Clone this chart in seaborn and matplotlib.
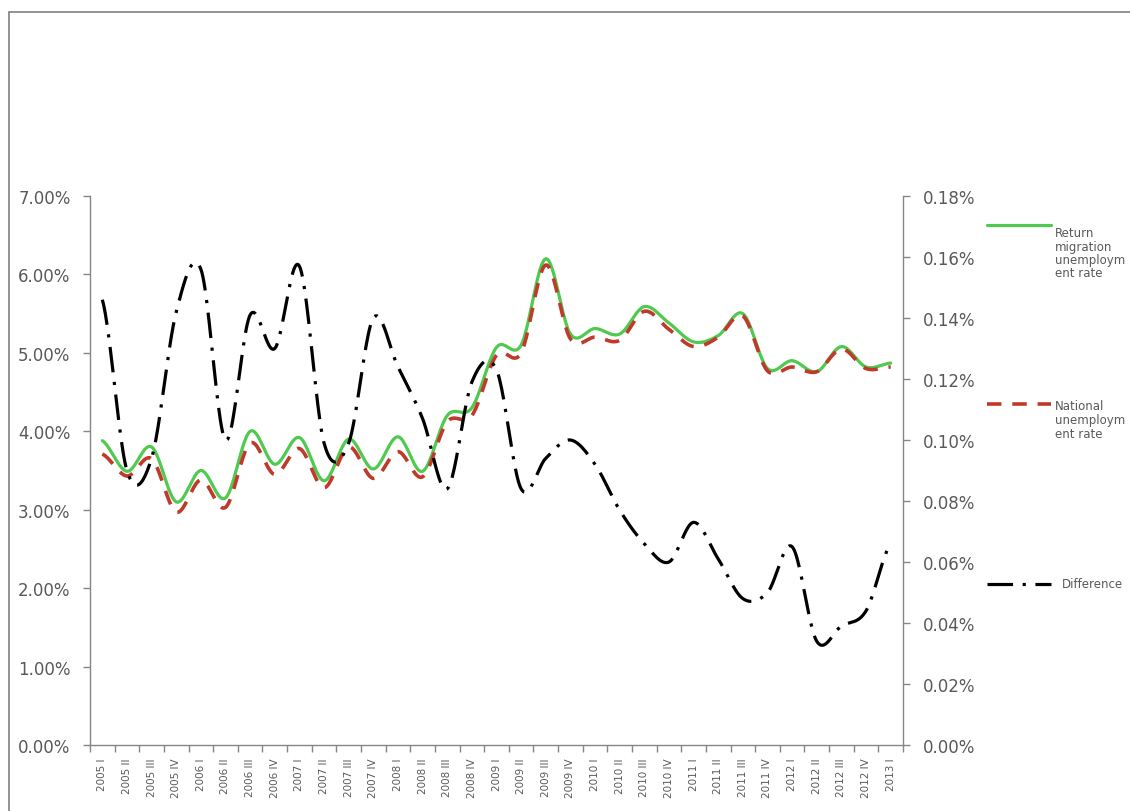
import numpy as np
import pandas as pd
import matplotlib
matplotlib.use("Agg")
import matplotlib.pyplot as plt
from matplotlib.lines import Line2D
from matplotlib.patches import Rectangle
from matplotlib.ticker import FuncFormatter, MultipleLocator, FixedLocator
import seaborn as sns

# ---- data (percent) ----
quarters = [
    "2005 I", "2005 II", "2005 III", "2005 IV",
    "2006 I", "2006 II", "2006 III", "2006 IV",
    "2007 I", "2007 II", "2007 III", "2007 IV",
    "2008 I", "2008 II", "2008 III", "2008 IV",
    "2009 I", "2009 II", "2009 III", "2009 IV",
    "2010 I", "2010 II", "2010 III", "2010 IV",
    "2011 I", "2011 II", "2011 III", "2011 IV",
    "2012 I", "2012 II", "2012 III", "2012 IV",
    "2013 I",
]
return_migration_rate = [
    3.88, 3.49, 3.80, 3.10, 3.50, 3.15, 4.00, 3.58, 3.92, 3.37, 3.90, 3.52,
    3.93, 3.49, 4.20, 4.30, 5.07, 5.10, 6.20, 5.24, 5.31, 5.24, 5.59, 5.38,
    5.14, 5.22, 5.50, 4.80, 4.90, 4.76, 5.08, 4.82, 4.87,
]
national_rate = [
    3.71, 3.43, 3.65, 2.97, 3.38, 3.03, 3.85, 3.45, 3.78, 3.28, 3.80, 3.40,
    3.74, 3.42, 4.12, 4.20, 4.97, 5.00, 6.12, 5.18, 5.20, 5.16, 5.53, 5.30,
    5.08, 5.20, 5.47, 4.77, 4.82, 4.76, 5.05, 4.80, 4.82,
]
difference = [
    0.146, 0.090, 0.094, 0.142, 0.156, 0.100, 0.141, 0.130, 0.157, 0.099,
    0.099, 0.140, 0.124, 0.107, 0.084, 0.119, 0.123, 0.084, 0.094, 0.100,
    0.092, 0.077, 0.066, 0.060, 0.073, 0.061, 0.048, 0.050, 0.065, 0.034,
    0.039, 0.044, 0.066,
]

legend_labels = [
    "Return\nmigration\nunemploym\nent rate",
    "National\nunemploym\nent rate",
    "Difference",
]


def smooth(values, steps=24):
    """Smoothed-line rendering (cubic Bezier through every point)."""
    y = np.asarray(values, dtype=float)
    n = len(y)
    xs, ys = [], []
    for i in range(n - 1):
        p0 = y[i - 1] if i > 0 else y[i]
        p1, p2 = y[i], y[i + 1]
        p3 = y[i + 2] if i + 2 < n else y[i + 1]
        c1 = p1 + (p2 - p0) / 6.0
        c2 = p2 - (p3 - p1) / 6.0
        t = np.linspace(0, 1, steps, endpoint=(i == n - 2))
        b = ((1 - t) ** 3) * p1 + 3 * ((1 - t) ** 2) * t * c1 + 3 * (1 - t) * t ** 2 * c2 + t ** 3 * p2
        xs.append(i + t)
        ys.append(b)
    return np.concatenate(xs), np.concatenate(ys)


sns.set_style("white")
plt.rcParams["font.family"] = ["DejaVu Sans"]

W, H = 1130, 812
fig = plt.figure(figsize=(W / 100, H / 100), dpi=100)
ax = fig.add_axes([90 / W, 66 / H, 813 / W, 549 / H])
ax2 = ax.twinx()

GREEN = "#4fc94f"
RED = "#c0392b"
BLACK = "#000000"
AXIS = "#868686"
TXT = "#595959"

gx, gy = smooth(return_migration_rate)
rx, ry = smooth(national_rate)
dx, dy = smooth(difference)

sns.lineplot(x=gx, y=gy, ax=ax, color=GREEN, lw=2.3, sort=False)
sns.lineplot(x=rx, y=ry, ax=ax, color=RED, lw=2.6, sort=False,
             linestyle=(0, (4, 3)))
sns.lineplot(x=dx, y=dy, ax=ax2, color=BLACK, lw=2.3, sort=False,
             linestyle=(0, (8, 3, 1, 3)))

n = len(quarters)
ax.set_xlim(-0.5, n - 0.5)
for a in (ax, ax2):
    a.set_xlabel("")
    a.set_ylabel("")

ax.set_ylim(0, 7)
ax2.set_ylim(0, 0.18)
ax.yaxis.set_major_locator(MultipleLocator(1))
ax2.yaxis.set_major_locator(MultipleLocator(0.02))
ax.yaxis.set_major_formatter(FuncFormatter(lambda v, p: f"{v:.2f}%"))
ax2.yaxis.set_major_formatter(FuncFormatter(lambda v, p: f"{v:.2f}%"))

ax.xaxis.set_major_locator(FixedLocator(np.arange(n)))
ax.xaxis.set_major_formatter(FuncFormatter(lambda v, p: quarters[int(round(v))] if 0 <= round(v) < n else ""))
ax.xaxis.set_minor_locator(FixedLocator(np.arange(n + 1) - 0.5))
ax.tick_params(axis="x", which="major", length=0, pad=9, labelsize=7.5,
               labelcolor=TXT, labelrotation=90, bottom=True, labelbottom=True)
ax.tick_params(axis="x", which="minor", length=5, width=1, color=AXIS,
               direction="out", bottom=True)
ax.tick_params(axis="y", length=5, width=1, color=AXIS, direction="out",
               labelsize=12, labelcolor=TXT, pad=9, left=True)
ax2.tick_params(axis="y", length=5, width=1, color=AXIS, direction="out",
                labelsize=12, labelcolor=TXT, pad=9, right=True)

for a in (ax, ax2):
    a.spines["top"].set_visible(False)
    for side in ("left", "right", "bottom"):
        a.spines[side].set_color(AXIS)
        a.spines[side].set_linewidth(1)
ax.spines["right"].set_visible(False)
ax2.spines["left"].set_visible(False)
ax2.spines["bottom"].set_visible(False)

# chart-area frame
fig.add_artist(Rectangle((9 / W, -0.1), 1.2, (H - 13) / H + 0.1,
                         transform=fig.transFigure, fill=False,
                         edgecolor="#8a8a8a", lw=1.3))

# legend on the right
def fy(py):
    return 1 - py / H

legend_rows = [
    (226, dict(color=GREEN, lw=2.3), [234, 248, 261, 274], 1055),
    (405, dict(color=RED, lw=2.6, linestyle=(0, (4, 3))), [407, 421, 435], 1055),
    (585, dict(color=BLACK, lw=2.3, linestyle=(0, (8, 3, 1, 3))), [585], 1062),
]
for (hy, style, rows, tx), label in zip(legend_rows, legend_labels):
    fig.add_artist(Line2D([987 / W, 1051 / W], [fy(hy), fy(hy)],
                          transform=fig.transFigure, **style))
    for py, line in zip(rows, label.split("\n")):
        fig.text(tx / W, fy(py), line, fontsize=8.5, color=TXT,
                 ha="left", va="center")

fig.savefig("out.png", dpi=100, facecolor="white")
